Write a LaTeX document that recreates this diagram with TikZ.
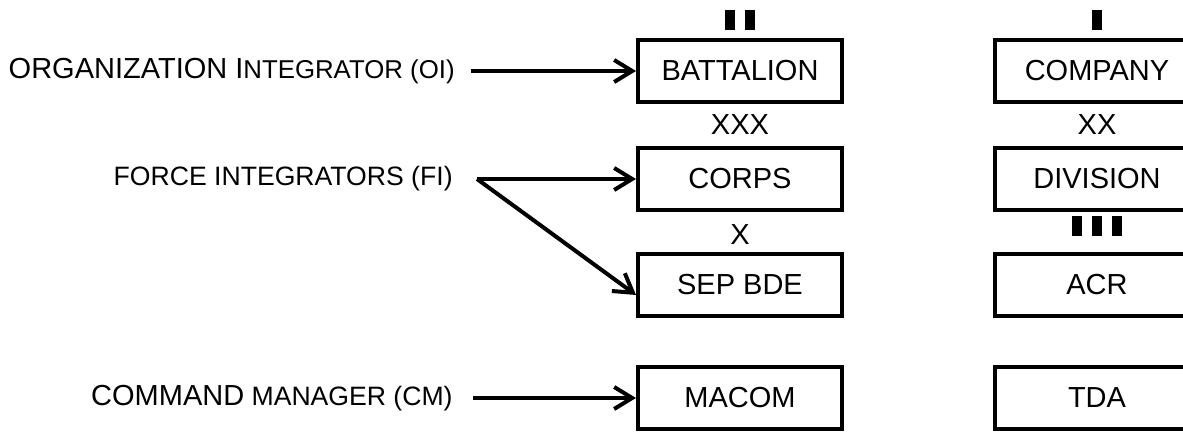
\documentclass[tikz,border=0pt]{standalone}
\usepackage{fontspec}
\setmainfont{Liberation Sans}
\usetikzlibrary{positioning,arrows.meta}
\newcommand{\bigtxt}{\fontsize{14.5}{17}\selectfont}
\newcommand{\smalltxt}{\fontsize{13.3}{15}\selectfont}
\tikzset{
unit/.style={draw=black, line width=2pt, minimum width=102pt,
    minimum height=31pt, inner sep=0pt, font=\bigtxt},
role/.style={anchor=east, inner sep=0pt},
echelon/.style={font=\bigtxt, inner sep=0pt},
link/.style={->, line width=2pt}
}

\begin{document}
\begin{tikzpicture}[>={Straight Barb[length=9pt,width=11pt]},x=0.5pt,y=0.5pt]
\useasboundingbox (0,0) rectangle (1183,432);

\node[unit] (bn) at (740,361) {BATTALION};
\node[unit] (co) at (1097,361) {COMPANY};
\node[unit] (corps) at (740,253) {CORPS};
\node[unit] (div) at (1097,253) {DIVISION};
\node[unit] (sep) at (740,147) {SEP BDE};
\node[unit] (acr) at (1097,147) {ACR};
\node[unit] (macom) at (740,34) {MACOM};
\node[unit] (tda) at (1097,34) {TDA};

% echelon marks
\fill (725,402) rectangle +(10,20);
\fill (745,402) rectangle +(10,20);
\fill (1092,402) rectangle +(10,20);
\node[echelon] (xxx) at (740,307) {XXX};
\node[echelon] (xx) at (1097,307) {XX};
\node[echelon] (x) at (740,197) {X};
\foreach \x in {1072,1092,1112}
    \fill (\x,196) rectangle +(10,20);

\node[role] (oi) at (455,361) {\bigtxt ORGANIZATION I\fontsize{12.9}{15}\selectfont NTEGRATOR (OI)};
\node[role] (fi) at (453,253) {\smalltxt FORCE INTEGRATORS (FI)};
\node[role] (cm) at (453,34) {\bigtxt COMMAND\smalltxt\ MANAGER (CM)};

\draw[link] ([xshift=8pt]oi.east) -- (bn.west);
\draw[link] ([xshift=12pt]fi.east) -- (corps.west);
\draw[link] ([xshift=12pt]fi.east) -- ([yshift=-5pt]sep.west);
\draw[link] ([xshift=10pt]cm.east) -- (macom.west);
\end{tikzpicture}
\end{document}
